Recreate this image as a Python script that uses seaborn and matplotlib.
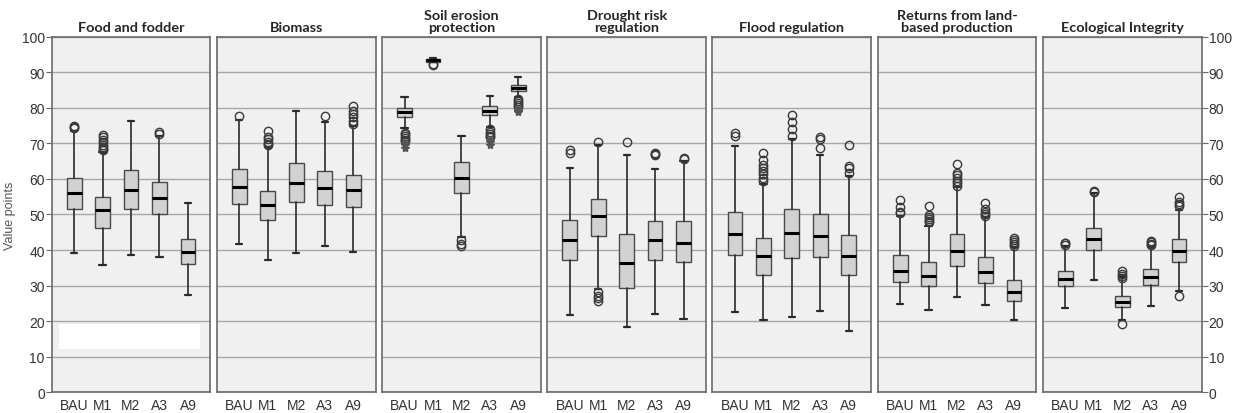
import numpy as np
import seaborn as sns
import matplotlib.pyplot as plt

scenarios = ["BAU", "M1", "M2", "A3", "A9"]
services = ["Food and fodder", "Biomass", "Soil erosion\nprotection",
            "Drought risk\nregulation", "Flood regulation",
            "Returns from land-\nbased production", "Ecological Integrity"]

# box summaries (one row per panel, one value per scenario)
whislo = [
    [39.1, 35.9, 38.7, 38.1, 27.5],
    [41.6, 37.2, 39.3, 41.1, 39.5],
    [74.3, 92.8, 43.8, 74.5, 82.9],
    [21.6, 29.1, 18.5, 22.0, 20.6],
    [22.5, 20.4, 21.3, 22.8, 17.2],
    [24.8, 23.2, 26.9, 24.6, 20.2],
    [23.6, 31.6, 20.4, 24.2, 28.6],
]
q1 = [
    [51.5, 46.3, 51.6, 50.1, 36.2],
    [53.0, 48.4, 53.4, 52.8, 52.2],
    [77.5, 93.0, 56.0, 77.9, 84.6],
    [37.1, 44.0, 29.2, 37.2, 36.6],
    [38.5, 33.0, 37.9, 38.1, 33.0],
    [31.1, 30.0, 35.4, 30.6, 25.6],
    [29.8, 39.9, 24.0, 30.3, 36.6],
]
med = [
    [56.1, 51.3, 56.9, 54.5, 39.4],
    [57.7, 52.6, 58.9, 57.5, 56.8],
    [78.7, 93.4, 60.4, 79.1, 85.6],
    [42.7, 49.7, 36.3, 42.7, 42.1],
    [44.4, 38.3, 44.8, 43.9, 38.3],
    [34.2, 32.8, 39.6, 33.7, 28.1],
    [31.9, 43.1, 25.5, 32.5, 39.7],
]
q3 = [
    [60.4, 54.8, 62.4, 59.1, 43.1],
    [62.8, 56.6, 64.4, 62.3, 61.2],
    [80.0, 93.7, 64.8, 80.4, 86.4],
    [48.4, 54.4, 44.4, 48.3, 48.1],
    [50.8, 43.3, 51.5, 50.0, 44.2],
    [38.6, 36.7, 44.4, 38.1, 31.6],
    [34.1, 46.3, 27.2, 34.6, 43.1],
]
whishi = [
    [73.6, 67.6, 76.4, 72.0, 53.1],
    [76.6, 69.0, 79.1, 75.9, 75.0],
    [83.1, 93.9, 72.1, 83.4, 88.6],
    [63.0, 69.4, 66.7, 62.9, 65.0],
    [69.3, 58.6, 71.2, 66.7, 60.9],
    [49.7, 46.9, 57.6, 49.2, 40.8],
    [41.0, 56.0, 32.3, 40.8, 51.3],
]
outliers = [
    [[74.2, 74.6, 75.0], [68.0, 68.5, 69.0, 69.6, 70.3, 71.0, 71.8, 72.4], [],
     [72.6, 73.2], []],
    [[77.8], [69.4, 69.9, 70.5, 71.2, 71.7, 73.6], [], [77.6],
     [75.5, 76.4, 77.3, 78.3, 79.2, 80.4]],
    [[73.0, 72.5, 72.0, 71.5, 71.0, 70.6], [92.4, 92.1], [42.8, 41.8, 41.2],
     [73.9, 73.3, 72.7, 72.2, 71.7], [82.5, 82.0, 81.4, 80.8, 80.2]],
    [[67.3, 68.0], [28.1, 27.2, 26.5, 25.8, 70.3], [70.3], [66.7, 67.1, 67.4],
     [65.6, 66.0]],
    [[72.2, 72.9], [59.5, 60.4, 61.3, 62.2, 63.0, 64.0, 65.4, 67.3],
     [72.2, 73.9, 76.1, 78.1], [68.6, 71.2, 71.7], [61.7, 63.0, 63.5, 69.4]],
    [[50.3, 50.8, 52.0, 54.0], [47.8, 48.3, 48.8, 49.3, 49.8, 52.5],
     [58.1, 58.8, 59.5, 60.2, 61.0, 61.8, 64.2], [49.7, 50.2, 50.6, 51.5, 53.1],
     [41.2, 41.7, 42.2, 42.8, 43.4]],
    [[41.4, 41.9, 42.1], [56.4, 56.7], [19.2, 32.0, 32.6, 33.3, 34.0],
     [41.3, 41.8, 42.3, 42.6], [27.0, 52.4, 53.0, 53.5, 55.0]],
]
# extreme values (drawn as stars in the original)
extremes = [
    [[], [], [], [], []],
    [[], [], [], [], []],
    [[70.1, 69.5, 68.8], [], [], [70.9, 70.3, 69.6], [79.7, 79.2, 78.7]],
    [[], [], [], [], []],
    [[], [], [], [], []],
    [[], [], [], [], []],
    [[], [], [], [], []],
]

sns.set_style("white")
plt.rcParams['font.family'] = ['Liberation Sans', 'DejaVu Sans']

fig, axes = plt.subplots(1, 7, figsize=(12.4, 4.14), dpi=100, sharey=True)
fig.subplots_adjust(left=0.0417, right=0.969, bottom=0.05, top=0.909, wspace=0.041)

positions = np.arange(len(scenarios))

for i, ax in enumerate(axes):
    ax.set_facecolor("#f0f0f0")
    stats = []
    for j, sc in enumerate(scenarios):
        stats.append(dict(label=sc, whislo=whislo[i][j], q1=q1[i][j], med=med[i][j],
                          q3=q3[i][j], whishi=whishi[i][j], fliers=outliers[i][j]))
    ax.bxp(stats, positions=positions, widths=0.52, patch_artist=True,
           capwidths=0.22,
           boxprops=dict(facecolor="#d2d2d2", edgecolor="#4a4a4a", linewidth=1.0),
           medianprops=dict(color="black", linewidth=2.2),
           whiskerprops=dict(color="#2a2a2a", linewidth=1.2),
           capprops=dict(color="#2a2a2a", linewidth=1.6),
           flierprops=dict(marker="o", markersize=6, markerfacecolor="none",
                           markeredgecolor="#3a3a3a", markeredgewidth=1.0))
    for j in range(len(scenarios)):
        if extremes[i][j]:
            ax.plot([positions[j]] * len(extremes[i][j]), extremes[i][j], ls="none",
                    marker="*", markersize=6, color="#555555")

    ax.set_ylim(0, 100)
    ax.set_xlim(-0.79, 4.79)
    ax.set_yticks(np.arange(0, 101, 10))
    ax.yaxis.grid(True, color="#a8a8a8", linewidth=1.0)
    ax.set_axisbelow(True)
    for sp in ax.spines.values():
        sp.set_color("#6a6a6a")
        sp.set_linewidth(1.2)
    ax.set_xticks(positions)
    ax.set_xticklabels(scenarios)
    ax.tick_params(axis="x", length=0, pad=4, labelsize=10, labelcolor="#333333")
    ax.tick_params(axis="y", labelleft=False, left=False, labelsize=10,
                   labelcolor="#333333")
    ax.set_title(services[i], fontsize=10.4, fontweight="bold", family=["Lato", "DejaVu Sans"],
                 linespacing=1.05, pad=4)

axes[0].tick_params(axis="y", labelleft=True, left=True, length=4, color="#6a6a6a", pad=1)
axes[0].set_ylabel("Value points", fontsize=9, color="#555555", labelpad=4)
axes[-1].tick_params(axis="y", labelright=True, right=True, length=4, color="#6a6a6a", pad=1)

# white patch covering the lower part of the first panel
axes[0].add_patch(plt.Rectangle((0.046, 0.122), 0.89, 0.07, transform=axes[0].transAxes,
                                facecolor="white", edgecolor="none", zorder=5))

fig.savefig("out.png", dpi=100)
